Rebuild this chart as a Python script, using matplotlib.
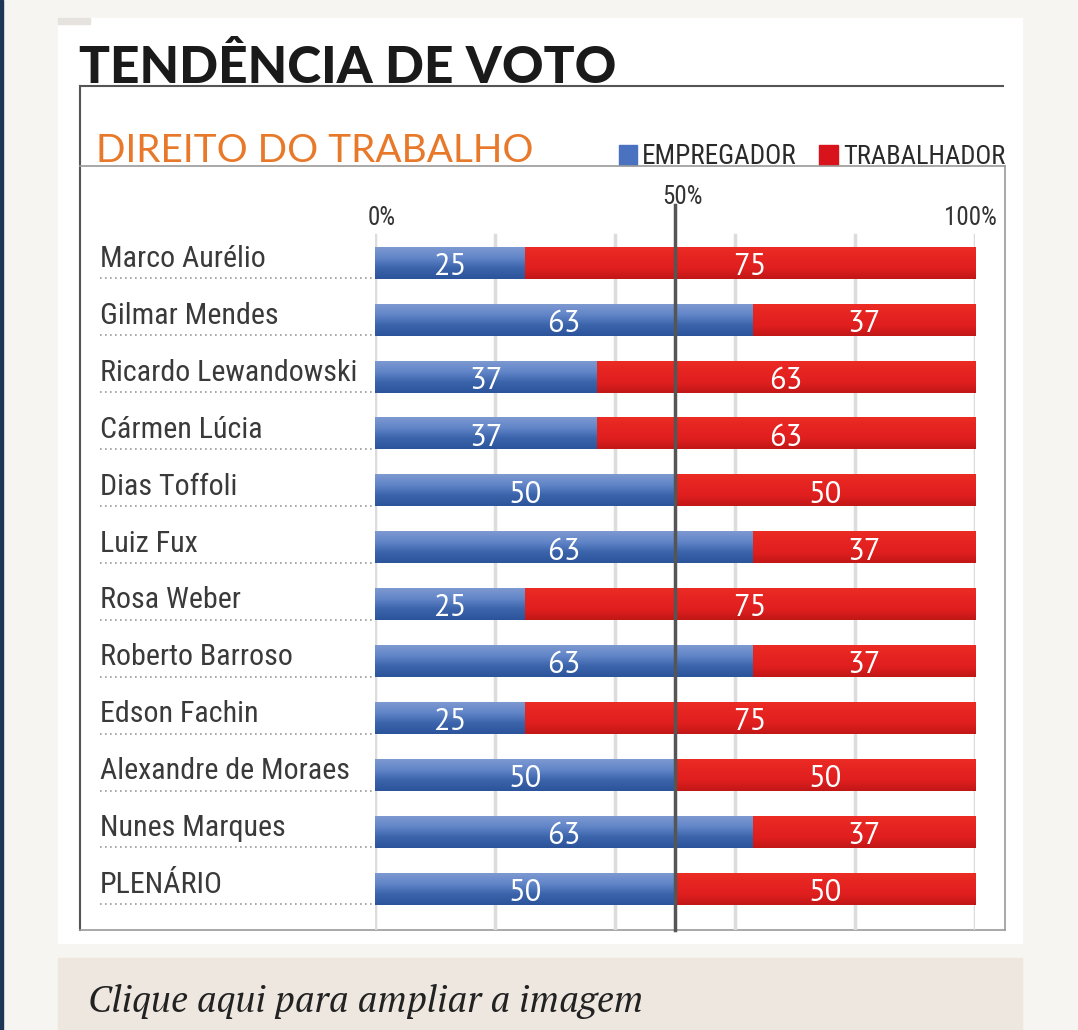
import numpy as np
import matplotlib
matplotlib.use('Agg')
import matplotlib.pyplot as plt
from matplotlib.patches import Rectangle
from matplotlib.lines import Line2D

names = ['Marco Aurélio', 'Gilmar Mendes', 'Ricardo Lewandowski', 'Cármen Lúcia',
         'Dias Toffoli', 'Luiz Fux', 'Rosa Weber', 'Roberto Barroso', 'Edson Fachin',
         'Alexandre de Moraes', 'Nunes Marques', 'PLENÁRIO']
empregador = [25, 63, 37, 37, 50, 63, 25, 63, 25, 50, 63, 50]
trabalhador = [75, 37, 63, 63, 50, 37, 75, 37, 75, 50, 37, 50]
grid_ticks = [0, 20, 40, 60, 80, 100]

W, H = 1078, 1030
narrow = ['Roboto Condensed', 'DejaVu Sans']
plain = ['PT Sans', 'DejaVu Sans']

fig = plt.figure(figsize=(W / 100, H / 100), dpi=100)
fig.patch.set_facecolor('#f7f5f1')
renderer = fig.canvas.get_renderer()

def px(x0, y0, x1, y1):
	# pixel box -> figure rect
	return [x0 / W, 1 - y1 / H, (x1 - x0) / W, (y1 - y0) / H]

def fit(txt, width):
	# scale the font so the text is about `width` pixels wide
	w = txt.get_window_extent(renderer).width
	txt.set_fontsize(txt.get_fontsize() * width / w)
	return txt

# background decorations (pixel space overlay)
bg = fig.add_axes([0, 0, 1, 1])
bg.set_xlim(0, W)
bg.set_ylim(H, 0)
bg.axis('off')
bg.add_patch(Rectangle((0, 0), 3, H, color='#1d3658'))
bg.add_patch(Rectangle((58, 18), 964, 925, color='white'))
bg.add_patch(Rectangle((58, 18), 32, 6, color='#e6e3de'))
bg.add_patch(Rectangle((58, 958), 964, 80, color='#ede7df'))
bg.add_line(Line2D([80, 1003], [86, 86], color='#555555', lw=1.5))
bg.add_line(Line2D([80, 80], [86, 930], color='#555555', lw=1.5))
bg.add_line(Line2D([80, 1005], [166, 166], color='#9a9a9a', lw=1.2))
bg.add_line(Line2D([1005, 1005], [166, 930], color='#9a9a9a', lw=1.2))
bg.add_line(Line2D([80, 1005], [930, 930], color='#9a9a9a', lw=1.2))

fit(bg.text(79, 83, 'TENDÊNCIA DE VOTO', fontsize=34, fontweight='black',
	family=['Lato', 'DejaVu Sans'], color='#1a1a1a', va='baseline'), 538)
fit(bg.text(96, 162, 'DIREITO DO TRABALHO', fontsize=23, family=['Lato', 'DejaVu Sans'],
	color='#e8792a', va='baseline'), 437)
bg.add_patch(Rectangle((619, 145), 18, 20, color='#4a72c0'))
fit(bg.text(642, 164, 'EMPREGADOR', fontsize=19.5, family=narrow, color='#2a2a2a', va='baseline'), 155)
bg.add_patch(Rectangle((819, 145), 19, 20, color='#d9131b'))
fit(bg.text(843, 164, 'TRABALHADOR', fontsize=19.5, family=narrow, color='#2a2a2a', va='baseline'), 162)
fit(bg.text(88, 1012, 'Clique aqui para ampliar a imagem', fontsize=22, style='italic',
	family=['PT Serif', 'DejaVu Serif'], color='#222222', va='baseline'), 555)

# main chart
ax = fig.add_axes(px(375, 205, 975, 930))
n = len(names)
ax.set_xlim(0, 100)
ax.set_ylim(11.72, -1.02)
ax.axis('off')
bar_h = 0.55

for g in grid_ticks:
	ax.plot([g, g], [-0.5, n - 0.25], color='#dcdcdc', lw=2.5, zorder=0)
ax.plot([50, 50], [-1.02, 11.72], color='#555555', lw=2.5, zorder=5, clip_on=False)

blue_grad = np.array([[0.49, 0.60, 0.82], [0.38, 0.52, 0.78], [0.23, 0.39, 0.67], [0.17, 0.33, 0.61]])
red_grad = np.array([[0.92, 0.17, 0.14], [0.90, 0.14, 0.13], [0.88, 0.12, 0.12], [0.76, 0.09, 0.09]])

def gradient(colors, steps=40):
	t = np.linspace(0, 1, steps)
	k = np.linspace(0, 1, len(colors))
	return np.stack([np.interp(t, k, colors[:, c]) for c in range(3)], axis=1)[:, None, :]

bimg = gradient(blue_grad)
rimg = gradient(red_grad)

name_texts = []
for i, (name, e, t) in enumerate(zip(names, empregador, trabalhador)):
	top, bot = i - bar_h / 2, i + bar_h / 2
	ax.imshow(bimg, extent=(0, e, bot, top), aspect='auto', zorder=2, interpolation='bilinear')
	ax.imshow(rimg, extent=(e, e + t, bot, top), aspect='auto', zorder=2, interpolation='bilinear')
	ax.text(e / 2, i + 0.21, str(e), color='white', fontsize=22, ha='center', va='baseline',
		family=plain, zorder=6)
	ax.text(e + t / 2, i + 0.21, str(t), color='white', fontsize=22, ha='center', va='baseline',
		family=plain, zorder=6)
	name_texts.append(ax.text(-45.8, i + 0.07, name, fontsize=21, family=narrow, color='#3a3a3a',
		ha='left', va='baseline', clip_on=False))
	ax.plot([-45.8, -0.5], [i + 0.27, i + 0.27], color='#9a9a9a', lw=1.2,
		linestyle=(0, (1, 2)), clip_on=False)

# one font size for all names, set from the longest one
ref = name_texts[names.index('Ricardo Lewandowski')]
fit(ref, 257)
for t in name_texts:
	t.set_fontsize(ref.get_fontsize())

ax.set_xlim(0, 100)
ax.set_ylim(11.72, -1.02)

ax.text(-1.2, -0.67, '0%', fontsize=18, family=narrow, color='#333333', ha='left', va='baseline')
ax.text(51.3, -1.04, '50%', fontsize=18, family=narrow, color='#333333', ha='center', va='baseline', clip_on=False)
ax.text(103.7, -0.67, '100%', fontsize=18, family=narrow, color='#333333', ha='right', va='baseline', clip_on=False)

fig.savefig('out.png', dpi=100, facecolor=fig.get_facecolor())
